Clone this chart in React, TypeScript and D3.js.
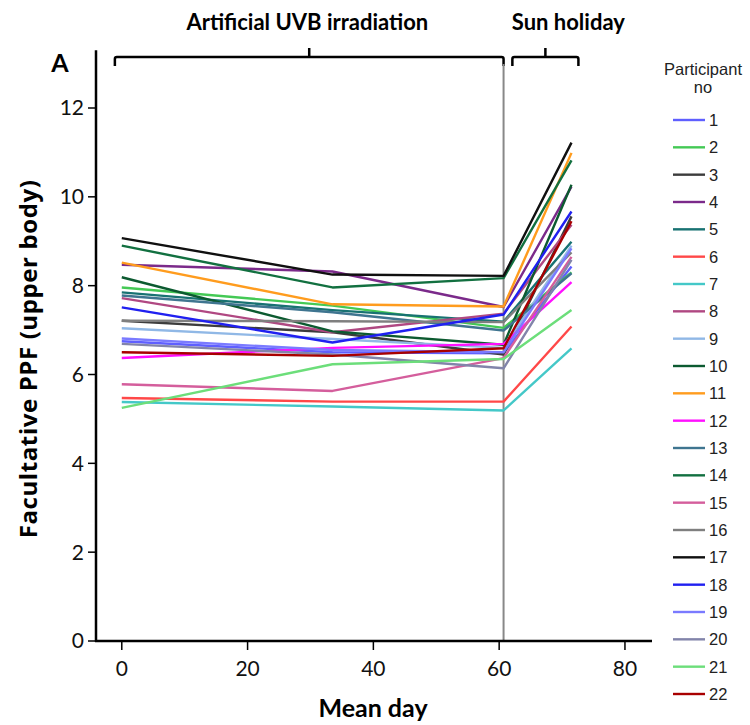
import * as d3 from "d3";

// Mean day of each measurement
const days = [0, 33.5, 60.7, 71.5];

const participants = [
  "1", "2", "3", "4", "5", "6", "7", "8", "9", "10", "11",
  "12", "13", "14", "15", "16", "17", "18", "19", "20", "21", "22",
];

const colors = [
  "#5f5fff", "#44c955", "#3c3c3c", "#7b2a8a", "#187272", "#ff4848", "#44c8c8",
  "#b04882", "#90b8e6", "#0c5a30", "#ff9c1e", "#ff10ff", "#3f7590", "#127040",
  "#d45e9c", "#7f7f7f", "#101010", "#2020f0", "#7a7aff", "#8284aa", "#6cde7a",
  "#a80000",
];

// Facultative PPF (upper body) per participant at each mean day
const ppf = [
  [6.75, 6.5, 6.48, 8.43],
  [7.96, 7.55, 7.05, 8.3],
  [7.21, 6.95, 6.45, 9.56],
  [8.47, 8.32, 7.52, 10.23],
  [7.85, 7.45, 7.19, 8.99],
  [5.47, 5.39, 5.39, 7.08],
  [5.38, 5.28, 5.19, 6.59],
  [7.72, 6.95, 7.37, 9.37],
  [7.04, 6.8, 6.6, 8.9],
  [8.19, 6.97, 6.67, 10.27],
  [8.52, 7.58, 7.53, 10.99],
  [6.37, 6.6, 6.69, 8.08],
  [7.78, 7.4, 6.99, 8.28],
  [8.9, 7.96, 8.17, 10.82],
  [5.78, 5.63, 6.37, 8.65],
  [7.21, 7.2, 7.18, 8.75],
  [9.07, 8.25, 8.22, 11.22],
  [7.51, 6.72, 7.35, 9.67],
  [6.81, 6.55, 6.5, 8.84],
  [6.69, 6.45, 6.14, 8.58],
  [5.25, 6.23, 6.35, 7.45],
  [6.5, 6.42, 6.59, 9.45],
];

const xTicks = [0, 20, 40, 60, 80];
const yTicks = [0, 2, 4, 6, 8, 10, 12];

const phases = [
  { label: "Artificial UVB irradiation", from: -1.1, to: 60.7, labelAt: 29.5 },
  { label: "Sun holiday", from: 62.1, to: 72.6, labelAt: 71.0 },
];
const breakDay = 60.7;

export default function App() {
  const x = d3.scaleLinear().domain([-4.1, 84.3]).range([96, 652]);
  const y = d3.scaleLinear().domain([0, 12]).range([641, 108]);
  const yTop = y(13.3);
  const line = d3
    .line<number>()
    .x((_, i) => x(days[i]))
    .y((d) => y(d));

  const font = "Lato, 'Open Sans', sans-serif";
  const legendY = d3.scaleLinear().domain([0, 21]).range([120, 694]);

  return (
    <svg width={750} height={725} style={{ position: "absolute", left: 0, top: 0 }}>
      <rect width={750} height={725} fill="white" />

      {/* phase brackets */}
      {phases.map((p) => {
        const x0 = x(p.from);
        const x1 = x(p.to);
        const mid = (x0 + x1) / 2;
        return (
          <g key={p.label}>
            <path
              d={`M${x0},66 L${x0},59 Q${x0},57 ${x0 + 2},57 L${x1 - 2},57 Q${x1},57 ${x1},59 L${x1},66 M${mid},57 L${mid},48`}
              fill="none"
              stroke="black"
              strokeWidth={2.5}
            />
            <text x={x(p.labelAt)} y={30} textAnchor="middle" fontFamily={font} fontWeight="bold" fontSize={22}>
              {p.label}
            </text>
          </g>
        );
      })}

      <text x={60} y={72} textAnchor="middle" fontFamily={font} fontWeight="bold" fontSize={25}>
        A
      </text>

      {/* vertical break line */}
      <line x1={x(breakDay)} x2={x(breakDay)} y1={64} y2={641} stroke="#888" strokeWidth={2} />

      {/* series */}
      <g fill="none" strokeWidth={2.4} strokeLinejoin="round">
        {ppf.map((vals, i) => (
          <path key={participants[i]} d={line(vals) ?? ""} stroke={colors[i]} />
        ))}
      </g>

      {/* axes */}
      <g stroke="black" strokeWidth={2.5}>
        <line x1={96} x2={96} y1={yTop} y2={642} />
        <line x1={95} x2={652} y1={641} y2={641} />
        {yTicks.map((t) => (
          <line key={t} x1={88} x2={96} y1={y(t)} y2={y(t)} strokeWidth={1.5} />
        ))}
        {xTicks.map((t) => (
          <line key={t} x1={x(t)} x2={x(t)} y1={641} y2={650} strokeWidth={1.5} />
        ))}
      </g>
      <g fontFamily={font} fontSize={21} fill="#111">
        {yTicks.map((t) => (
          <text key={t} x={84} y={y(t)} dy="0.35em" textAnchor="end">
            {t}
          </text>
        ))}
        {xTicks.map((t) => (
          <text key={t} x={x(t)} y={676} textAnchor="middle">
            {t}
          </text>
        ))}
      </g>
      <text x={373} y={717} textAnchor="middle" fontFamily={font} fontWeight="bold" fontSize={25}>
        Mean day
      </text>
      <text
        transform={`translate(37,${y(6.35)}) rotate(-90)`}
        textAnchor="middle"
        fontFamily="'Open Sans', Lato, sans-serif"
        fontWeight="bold"
        fontSize={24}
        letterSpacing={0.6}
      >
        Facultative PPF (upper body)
      </text>

      {/* legend */}
      <g fontFamily="'Liberation Sans', Arial, sans-serif" fill="#222">
        <text x={703} y={75} textAnchor="middle" fontSize={16.5}>
          Participant
        </text>
        <text x={703} y={93} textAnchor="middle" fontSize={16.5}>
          no
        </text>
        {participants.map((p, i) => (
          <g key={p} transform={`translate(0,${legendY(i)})`}>
            <line x1={673} x2={705} y1={0} y2={0} stroke={colors[i]} strokeWidth={2.4} />
            <text x={709} y={0} dy="0.36em" fontSize={16.5}>
              {p}
            </text>
          </g>
        ))}
      </g>
    </svg>
  );
}
